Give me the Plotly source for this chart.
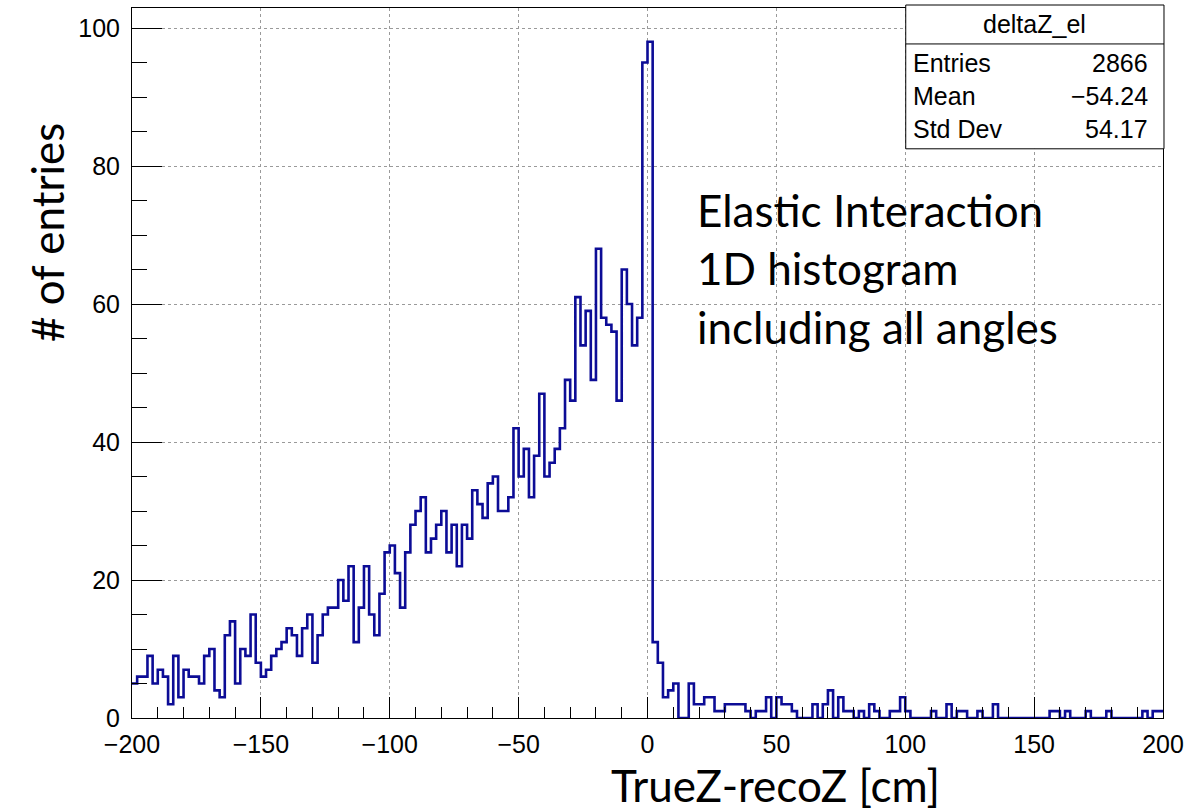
import numpy as np
import plotly.graph_objects as go

# ---- data (200 bins, width 2, from -200 to 200) ----
x_min, x_max, bin_width = -200, 200, 2
counts = [
    5, 6, 6, 9, 5, 7, 6, 2, 9, 3,
    7, 6, 6, 5, 9, 10, 4, 3, 12, 14,
    5, 10, 9, 15, 8, 6, 7, 9, 10, 11,
    13, 12, 9, 13, 15, 8, 12, 15, 16, 16,
    20, 17, 22, 11, 16, 22, 15, 12, 18, 24,
    25, 21, 16, 24, 28, 30, 32, 24, 26, 28,
    30, 24, 28, 22, 28, 26, 33, 31, 29, 34,
    35, 30, 30, 32, 42, 35, 39, 32, 38, 47,
    35, 37, 39, 42, 49, 46, 61, 54, 59, 49,
    68, 58, 57, 56, 46, 65, 60, 54, 58, 95,
    98, 11, 8, 3, 4, 5, 0, 0, 5, 2,
    2, 3, 3, 1, 1, 2, 2, 2, 2, 1,
    0, 1, 1, 3, 0, 3, 2, 2, 1, 0,
    0, 0, 2, 0, 2, 4, 0, 3, 1, 1,
    0, 1, 0, 2, 1, 0, 0, 1, 1, 3,
    1, 0, 0, 0, 0, 1, 0, 0, 2, 0,
    1, 1, 0, 0, 1, 0, 0, 2, 0, 0,
    0, 0, 0, 0, 0, 0, 0, 0, 1, 1,
    0, 1, 0, 0, 0, 1, 0, 0, 0, 1,
    0, 0, 0, 0, 0, 0, 1, 0, 1, 1,
]
hist_name = "deltaZ_el"
stat_labels = ["Entries", "Mean", "Std Dev"]
stat_values = ["2866", "\u221254.24", "54.17"]
x_title = "TrueZ-recoZ [cm]"
y_title = "# of entries"
note_lines = ["Elastic Interaction", "1D histogram", "including all angles"]

edges = list(range(x_min, x_max + bin_width, bin_width))
step_y = counts + [counts[-1]]

# ---- layout geometry (pixels) ----
W, H = 1191, 810
L, R, T, B = 132, 1166, 7, 718
pw, ph = R - L, B - T


def px(xp):
    return (xp - L) / pw


def py(yp):
    return (B - yp) / ph


fig = go.Figure()
fig.add_trace(go.Scatter(
    x=edges, y=step_y, mode="lines", line_shape="hv",
    line=dict(color="#0c0c96", width=2.6), hoverinfo="skip", showlegend=False,
))

tick_font = dict(family="Liberation Sans, Arial, sans-serif", size=25, color="black")
fig.update_layout(
    width=W, height=H,
    margin=dict(l=L, r=W - R, t=T, b=H - B, pad=0),
    paper_bgcolor="white", plot_bgcolor="white",
    xaxis=dict(
        range=[x_min, x_max], dtick=50, tick0=0, ticks="inside", ticklen=21,
        tickcolor="black", tickwidth=1,
        minor=dict(dtick=10, ticks="inside", ticklen=11, tickcolor="black", showgrid=False),
        showgrid=True, gridcolor="#9a9a9a", griddash="dot", gridwidth=1,
        showline=True, linecolor="black", linewidth=1, mirror=True,
        zeroline=False, tickfont=tick_font, ticklabelstandoff=4,
    ),
    yaxis=dict(
        range=[0, 102.9], dtick=20, ticks="inside", ticklen=30,
        tickcolor="black", tickwidth=1,
        minor=dict(dtick=5, ticks="inside", ticklen=15, tickcolor="black", showgrid=False),
        showgrid=True, gridcolor="#9a9a9a", griddash="dot", gridwidth=1,
        showline=True, linecolor="black", linewidth=1, mirror=True,
        zeroline=False, tickfont=tick_font, ticklabelstandoff=6,
    ),
)

# axis titles (PowerPoint-style font)
title_font = dict(family="Lato, Carlito, sans-serif", size=44, color="black")
note_font = dict(family="Lato, Carlito, sans-serif", size=44, color="black")
fig.add_annotation(text=x_title, xref="paper", yref="paper", x=px(777), y=py(785),
                   showarrow=False, font=title_font, xanchor="center", yanchor="middle")
fig.add_annotation(text=y_title, xref="paper", yref="paper", x=px(46), y=py(232),
                   showarrow=False, font=title_font, textangle=-90,
                   xanchor="center", yanchor="middle")

# note text
for i, line in enumerate(note_lines):
    fig.add_annotation(text=line, xref="paper", yref="paper", x=px(697), y=py(209 + 58.5 * i),
                       showarrow=False, font=note_font, xanchor="left", yanchor="middle")

# stats box
box_font = dict(family="Liberation Sans, Arial, sans-serif", size=25, color="black")
fig.add_shape(type="rect", xref="paper", yref="paper", x0=px(908), x1=px(1167),
              y0=py(148), y1=py(4), line=dict(color="black", width=1), fillcolor="white",
              layer="above")
fig.add_shape(type="line", xref="paper", yref="paper", x0=px(908), x1=px(1167),
              y0=py(43), y1=py(43), line=dict(color="black", width=1), layer="above")
fig.add_annotation(text=hist_name, xref="paper", yref="paper", x=px(1037), y=py(23),
                   showarrow=False, font=box_font, xanchor="center", yanchor="middle")
for i, (lab, val) in enumerate(zip(stat_labels, stat_values)):
    yy = py(62 + 33 * i)
    fig.add_annotation(text=lab, xref="paper", yref="paper", x=px(913), y=yy,
                       showarrow=False, font=box_font, xanchor="left", yanchor="middle")
    fig.add_annotation(text=val, xref="paper", yref="paper", x=px(1153), y=yy,
                       showarrow=False, font=box_font, xanchor="right", yanchor="middle")

fig.write_html("out.html")
